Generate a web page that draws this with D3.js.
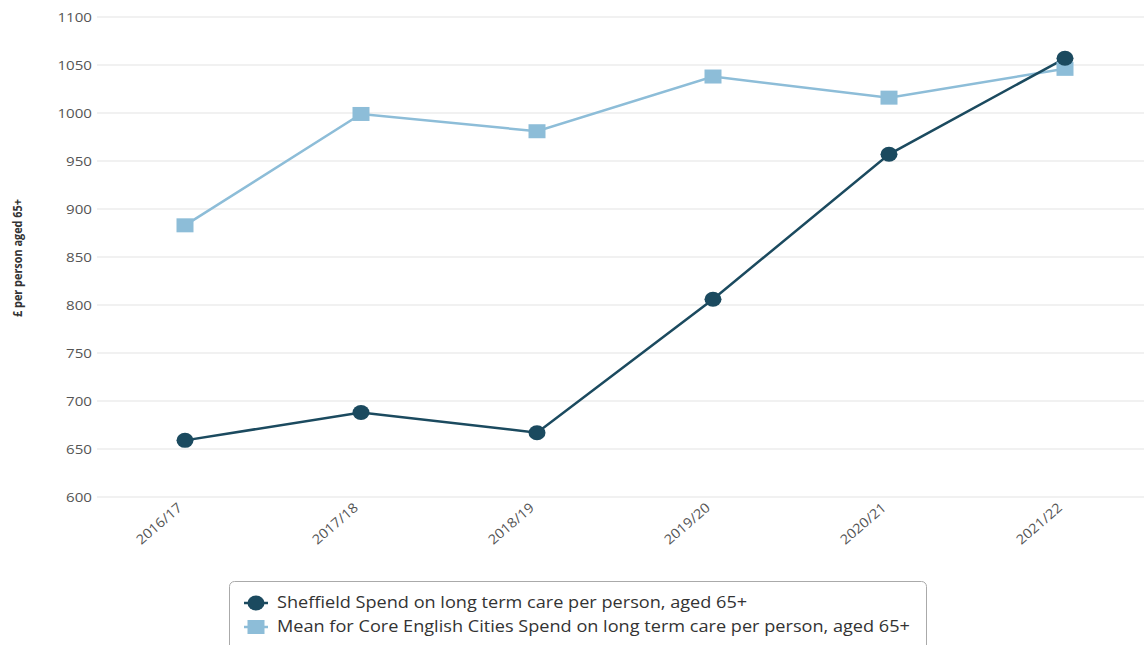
<!DOCTYPE html>
<html><head><meta charset="utf-8">
<script src="https://cdn.jsdelivr.net/npm/d3@7"></script>
<style>body{margin:0;background:#fff;}svg{display:block;font-family:"Open Sans",sans-serif;}</style>
</head><body><svg id="c" width="1144" height="645"></svg>
<script>
const categories = ["2016/17","2017/18","2018/19","2019/20","2020/21","2021/22"];
const sheffield = [659, 688, 667, 806, 957, 1057];
const coreCities = [883, 999, 981, 1038, 1016, 1046];
const yTicks = [600,650,700,750,800,850,900,950,1000,1050,1100];
const seriesNames = ["Sheffield Spend on long term care per person, aged 65+","Mean for Core English Cities Spend on long term care per person, aged 65+"];
const yTitle = "£ per person aged 65+";

const svg = d3.select("#c");
const dark = "#1b4a5f", light = "#8dbdd8";
const x = d3.scaleBand().domain(categories).range([97, 1153]);
const y = d3.scaleLinear().domain([600,1100]).range([497, 17]);
const cx = d => x(d) + x.bandwidth()/2;

// grid
svg.append("g").selectAll("line").data(yTicks).join("line")
  .attr("x1", 97).attr("x2", 1144).attr("y1", d=>y(d)).attr("y2", d=>y(d))
  .attr("stroke", "#e3e3e3").attr("stroke-width", 1);
// y labels
svg.append("g").selectAll("text").data(yTicks).join("text")
  .attr("x", 92).attr("y", d=>y(d)).attr("dy","0.35em").attr("text-anchor","end")
  .attr("font-size", 13.5).attr("fill","#555").attr("transform-origin", d=>`92 ${y(d)}`)
  .attr("transform","scale(1.12,1)").text(d=>d);
// x labels
svg.append("g").selectAll("text").data(categories).join("text")
  .attr("transform", d=>`translate(${cx(d)-2},${509}) rotate(-41) scale(1.08,1)`)
  .attr("text-anchor","end").attr("font-size",13.5).attr("fill","#555").text(d=>d);
// y title
svg.append("text").attr("transform","translate(22,258) rotate(-90)")
  .attr("text-anchor","middle").attr("font-size",12.5).attr("font-weight",700)
  .attr("fill","#333").attr("textLength",118).attr("lengthAdjust","spacingAndGlyphs").text(yTitle);

const line = d3.line().x((d,i)=>cx(categories[i])).y(d=>y(d));
svg.append("path").datum(coreCities).attr("d", line).attr("fill","none").attr("stroke",light).attr("stroke-width",2.5);
svg.append("path").datum(sheffield).attr("d", line).attr("fill","none").attr("stroke",dark).attr("stroke-width",2.5);
svg.append("g").selectAll("rect").data(coreCities).join("rect")
  .attr("x",(d,i)=>cx(categories[i])-8.5).attr("y",d=>y(d)-7).attr("width",17).attr("height",14).attr("fill",light);
svg.append("g").selectAll("ellipse").data(sheffield).join("ellipse")
  .attr("cx",(d,i)=>cx(categories[i])).attr("cy",d=>y(d)).attr("rx",8.5).attr("ry",7.5).attr("fill",dark);

// legend
const lg = svg.append("g");
lg.append("rect").attr("x",229.5).attr("y",581.5).attr("width",697).attr("height",80).attr("rx",5)
  .attr("fill","#fff").attr("stroke","#aaa").attr("stroke-width",1);
const items = lg.selectAll("g.it").data(seriesNames).join("g").attr("class","it")
  .attr("transform",(d,i)=>`translate(0,${603+i*24})`);
items.append("line").attr("x1",244).attr("x2",268).attr("stroke",(d,i)=>i?light:dark).attr("stroke-width",2.5);
items.filter((d,i)=>i===0).append("ellipse").attr("cx",256).attr("rx",8.5).attr("ry",7.5).attr("fill",dark);
items.filter((d,i)=>i===1).append("rect").attr("x",247.5).attr("y",-7).attr("width",17).attr("height",14).attr("fill",light);
items.append("text").attr("x",277).attr("dy","0.35em").attr("font-size",15.5).attr("fill","#333")
  .attr("transform-origin","277 0").attr("transform","scale(1.17,1)").text(d=>d);
</script></body></html>
